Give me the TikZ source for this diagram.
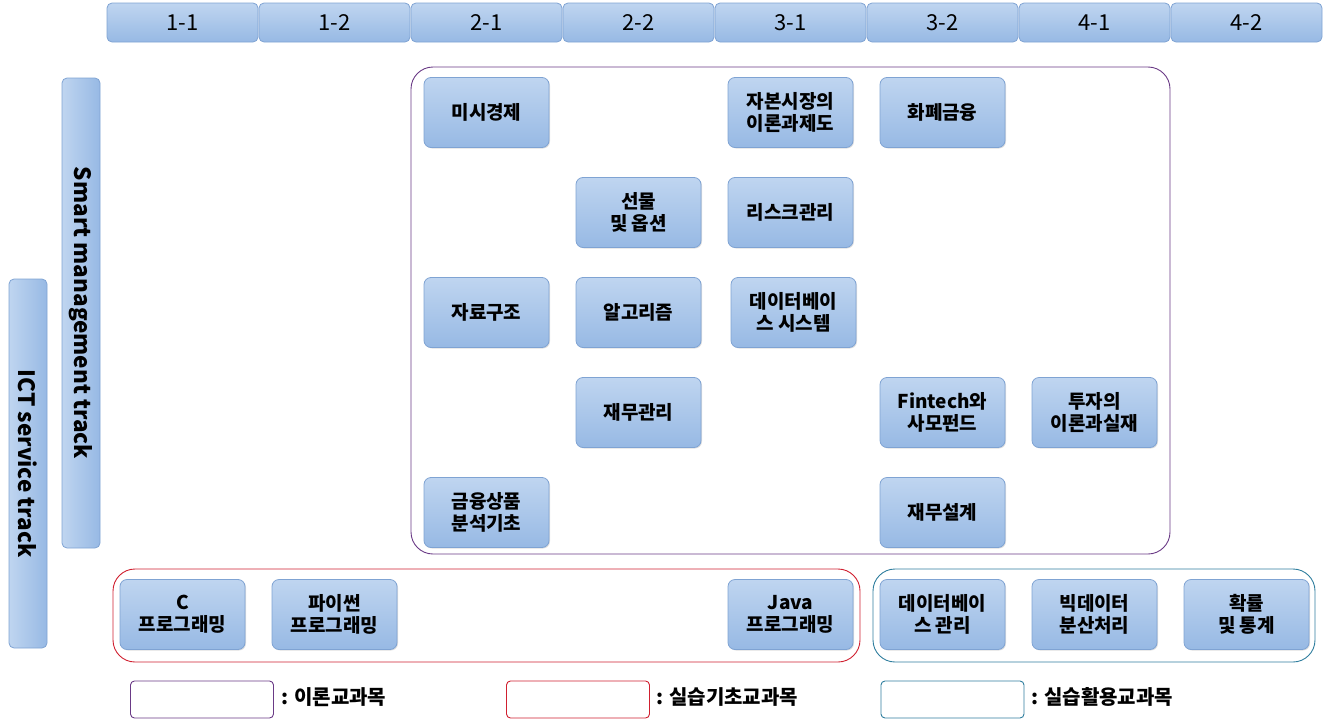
\documentclass[tikz,border=0pt]{standalone}
\usepackage{fontspec}
\setmainfont{Noto Sans CJK KR}
\usetikzlibrary{shadows}
\definecolor{topc}{HTML}{BFD5F0}
\definecolor{botc}{HTML}{97B9E4}
\definecolor{bordc}{HTML}{7FA3D3}
\definecolor{purp}{HTML}{6A3A86}
\definecolor{redb}{HTML}{D02030}
\definecolor{blueb}{HTML}{2F7E9E}
\tikzset{
  cell/.style={draw=bordc, line width=0.8pt, rounded corners=5pt, top color=topc, bottom color=botc,
    minimum width=151pt, minimum height=39pt, inner sep=0pt, font=\fontsize{22}{24}\selectfont},
  course/.style={draw=bordc, line width=0.8pt, rounded corners=7pt, top color=topc, bottom color=botc,
    minimum width=125pt, minimum height=70pt, inner sep=1pt, align=center,
    font=\bfseries\fontsize{19}{22}\selectfont, drop shadow={shadow xshift=1pt, shadow yshift=-1pt, opacity=0.25}},
  track/.style={draw=bordc, line width=0.8pt, rounded corners=5pt, left color=topc, right color=botc,
    minimum height=38pt, inner sep=0pt, rotate=-90, font=\bfseries\fontsize{22.5}{24}\selectfont},
  grp/.style={line width=0.9pt, rounded corners=22pt},
  legbox/.style={line width=0.9pt, rounded corners=4pt, minimum width=143pt, minimum height=37pt, inner sep=0pt},
  legtxt/.style={anchor=west, inner sep=0pt, font=\bfseries\fontsize{20}{22}\selectfont}
}
\begin{document}
\begin{tikzpicture}[x=1pt,y=-1pt]
\useasboundingbox (0,0) rectangle (1326,723);
% header
\foreach \t [count=\i] in {1-1,1-2,2-1,2-2,3-1,3-2,4-1,4-2}
  \node[cell] (h\i) at ({182.5+152*(\i-1)},22.5) {\t};
% tracks
\node[track, minimum width=470pt] (smt) at (81,313) {Smart management track};
\node[track, minimum width=369pt] (ict) at (28,463.5) {ICT service track};
% groups
\draw[grp, draw=purp] (411,67) rectangle (1170,554);
\draw[grp, draw=redb] (113,569) rectangle (860,662);
\draw[grp, draw=blueb] (873,569) rectangle (1315,662);
% row 1
\node[course] (n1) at (486.5,112.5) {미시경제};
\node[course] (n2) at (790.5,112.5) {자본시장의\\이론과제도};
\node[course] (n3) at (942.5,112.5) {화폐금융};
% row 2
\node[course] (n4) at (638.5,212.5) {선물\\및 옵션};
\node[course] (n5) at (790.5,212.5) {리스크관리};
% row 3
\node[course] (n6) at (486.5,312.5) {자료구조};
\node[course] (n7) at (638.5,312.5) {알고리즘};
\node[course] (n8) at (793.5,312.5) {데이터베이\\스 시스템};
% row 4
\node[course] (n9) at (638.5,412.5) {재무관리};
\node[course] (n10) at (942.5,412.5) {Fintech와\\사모펀드};
\node[course] (n11) at (1094.5,412.5) {투자의\\이론과실재};
% row 5
\node[course] (n12) at (486.5,512.5) {금융상품\\분석기초};
\node[course] (n13) at (942.5,512.5) {재무설계};
% bottom row
\node[course] (b1) at (182.5,614.5) {C\\프로그래밍};
\node[course] (b2) at (334.5,614.5) {파이썬\\프로그래밍};
\node[course] (b3) at (790.5,614.5) {Java\\프로그래밍};
\node[course] (b4) at (942.5,614.5) {데이터베이\\스 관리};
\node[course] (b5) at (1094.5,614.5) {빅데이터\\분산처리};
\node[course] (b6) at (1246.5,614.5) {확률\\및 통계};
% legend
\node[legbox, draw=purp] (l1) at (202,699.5) {};
\node[legtxt] (t1) at (281,697) {: 이론교과목};
\node[legbox, draw=redb] (l2) at (578,699.5) {};
\node[legtxt] (t2) at (656,697) {: 실습기초교과목};
\node[legbox, draw=blueb] (l3) at (952.5,699.5) {};
\node[legtxt] (t3) at (1031,697) {: 실습활용교과목};
\end{tikzpicture}
\end{document}
